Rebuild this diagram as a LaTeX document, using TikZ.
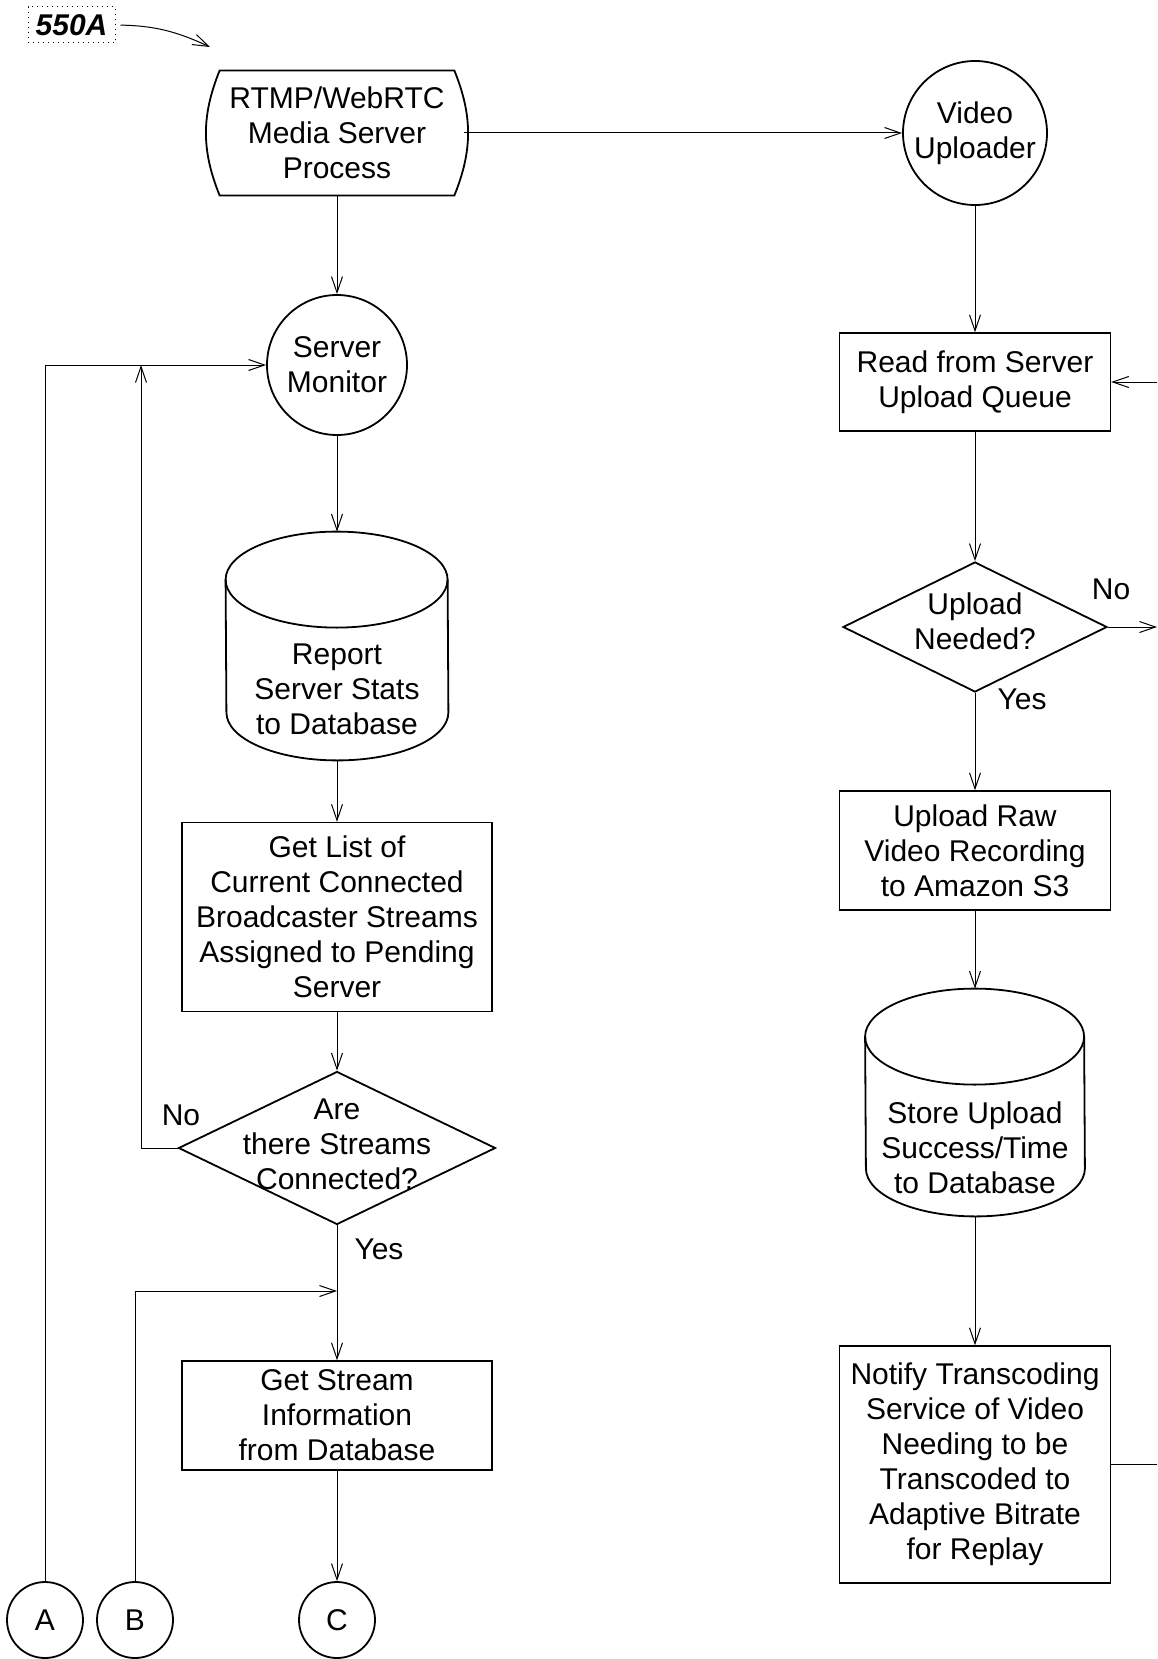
\documentclass[tikz,border=0pt]{standalone}
\usepackage{fontspec}
\setmainfont{Liberation Sans}
\usetikzlibrary{arrows.meta,shapes.geometric,calc}

\tikzset{
	txt/.style={font=\fontsize{15pt}{17.5pt}\selectfont, align=center, inner sep=0pt},
	box/.style={txt, draw, rectangle, line width=0.7pt},
	circ/.style={txt, draw, circle, line width=0.9pt},
	decide/.style={draw, diamond, line width=0.9pt, inner sep=0pt},
	drum/.style={rectangle, inner sep=0pt},
	flow/.style={line width=0.5pt, -{Straight Barb[length=8pt,width=5.5pt]}},
	plain/.style={line width=0.5pt}
}

% database drum: node, x radius, y radius
\newcommand{\drawdrum}[3]{%
	\draw[line width=0.9pt] ($(#1.north west)+(0pt,-#3)$) arc[start angle=180,end angle=0,x radius=#2,y radius=#3]
		-- ($(#1.south east)+(0pt,#3)$) arc[start angle=0,end angle=-180,x radius=#2,y radius=#3] -- cycle;
	\draw[line width=0.9pt] ($(#1.north west)+(0pt,-#3)$) arc[start angle=180,end angle=360,x radius=#2,y radius=#3];
}

\begin{document}
\begin{tikzpicture}[x=0.5pt,y=-0.5pt]
	\useasboundingbox (0,0) rectangle (1157,1659);

	% figure label
	\node[draw, dotted, line width=0.5pt, minimum width=43.5pt, minimum height=18pt, inner sep=0pt,
		font=\fontsize{15pt}{17pt}\selectfont\bfseries\itshape] (figlabel) at (71.5,25) {550A};
	\coordinate (figpoint) at (210,47);
	\draw[flow, shorten <=2.5pt] (figlabel.east) to[bend left=12] (figpoint);

	% left column
	\node[txt, minimum width=117pt, minimum height=62pt] (media) at (337,133) {RTMP/WebRTC\\Media Server\\Process};
	\draw[line width=0.9pt] (media.north west) to[bend right=22] (media.south west) -- (media.south east)
		to[bend right=22] (media.north east) -- cycle;
	\node[circ, minimum size=70pt] (monitor) at (337,365) {Server\\Monitor};
	\node[drum, minimum width=111pt, minimum height=114pt] (report) at (337,646) {};
	\drawdrum{report}{55.5pt}{24pt}
	\node[txt] (reporttxt) at (337,689) {Report\\Server Stats\\to Database};
	\node[box, minimum width=155pt, minimum height=94.5pt] (getlist) at (337,917) {Get List of\\Current Connected\\Broadcaster Streams\\Assigned to Pending\\Server};
	\node[decide, minimum width=158.5pt, minimum height=76.5pt] (streams) at (337,1148) {};
	\node[txt] (streamstxt) at (337,1144) {Are\\there Streams\\Connected?};
	\node[txt] (no2) at (181,1115) {No};
	\node[txt] (yes2) at (379,1249) {Yes};
	\node[box, minimum width=155pt, minimum height=54.5pt] (getstream) at (337,1415.5) {Get Stream\\Information\\from Database};
	\node[circ, minimum size=38pt] (A) at (45,1620) {A};
	\node[circ, minimum size=38pt] (B) at (135,1620) {B};
	\node[circ, minimum size=38pt] (C) at (337,1620) {C};
	\coordinate (nojoin) at (141,365);
	\coordinate (yesjoin) at (337,1291);

	% right column
	\node[circ, minimum size=72pt] (uploader) at (975,133) {Video\\Uploader};
	\node[box, minimum width=135.5pt, minimum height=49pt] (readq) at (975,382) {Read from Server\\Upload Queue};
	\node[decide, minimum width=132pt, minimum height=65pt] (needed) at (975,627) {};
	\node[txt] (neededtxt) at (975,621) {Upload\\Needed?};
	\node[txt] (no1) at (1111,589) {No};
	\node[txt] (yes1) at (1022,699) {Yes};
	\node[box, minimum width=135.5pt, minimum height=59.5pt] (rawup) at (975,850.5) {Upload Raw\\Video Recording\\to Amazon S3};
	\node[drum, minimum width=109.5pt, minimum height=113.5pt] (store) at (975,1102.5) {};
	\drawdrum{store}{54.75pt}{24pt}
	\node[txt] (storetxt) at (975,1148) {Store Upload\\Success/Time\\to Database};
	\node[box, minimum width=135.5pt, minimum height=118.5pt] (notify) at (975,1464.5) {Notify Transcoding\\Service of Video\\Needing to be\\Transcoded to\\Adaptive Bitrate\\for Replay};
	\coordinate (noend) at (1157,627);
	\coordinate (loopin) at (1157,382);
	\coordinate (notifyout) at (1157,1464.5);

	% connectors
	\draw[flow] ([xshift=5pt]media.east) -- (uploader.west);
	\draw[flow] (media.south) -- (monitor.north);
	\draw[flow] (monitor.south) -- (report.north);
	\draw[flow] (report.south) -- (getlist.north);
	\draw[flow] (getlist.south) -- (streams.north);
	\draw[flow] (streams.west) -| (nojoin);
	\draw[flow] (A.north) |- (monitor.west);
	\draw[flow] (streams.south) -- (getstream.north);
	\draw[flow] (B.north) |- (yesjoin);
	\draw[flow] (getstream.south) -- (C.north);
	\draw[flow] (uploader.south) -- (readq.north);
	\draw[flow] (readq.south) -- (needed.north);
	\draw[flow] (needed.east) -- (noend);
	\draw[flow] (needed.south) -- (rawup.north);
	\draw[flow] (rawup.south) -- (store.north);
	\draw[flow] (store.south) -- (notify.north);
	\draw[plain] (notify.east) -- (notifyout);
	\draw[flow] (loopin) -- (readq.east);
\end{tikzpicture}
\end{document}
